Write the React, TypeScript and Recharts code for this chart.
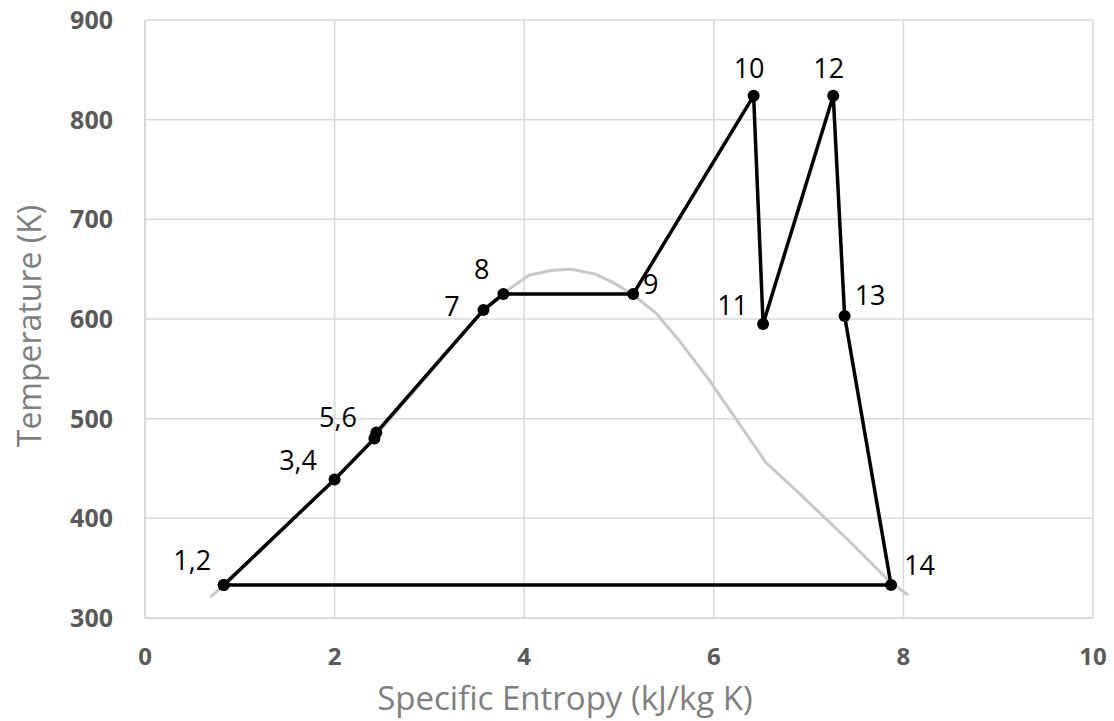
import React from 'react';
import {
  ScatterChart,
  Scatter,
  XAxis,
  YAxis,
  CartesianGrid,
  LabelList,
} from 'recharts';

// state points of the cycle (in order), closing back to 1,2
const cycleLabels = ['1,2', '3,4', '5,6', '', '7', '8', '9', '10', '11', '12', '13', '14', ''];
const cycleS = [0.83, 2.0, 2.42, 2.44, 3.57, 3.78, 5.15, 6.42, 6.52, 7.26, 7.38, 7.87, 0.83];
const cycleT = [333, 439, 480, 486, 609, 625, 625, 824, 595, 824, 603, 333, 333];

// saturation dome
const domeS = [0.69, 0.83, 2.0, 2.42, 3.57, 3.78, 4.05, 4.3, 4.5, 4.75, 4.95, 5.15, 5.39, 5.63, 5.95, 6.26, 6.55, 6.89, 7.42, 7.84, 8.05];
const domeT = [321, 333, 439, 481, 609, 626, 644, 649, 650, 645, 636, 624, 606, 579, 539, 496, 456, 426, 378, 338, 323];

const xTicks = [0, 2, 4, 6, 8, 10];
const yTicks = [300, 400, 500, 600, 700, 800, 900];

const cycleData = cycleS.map((s, i) => ({ s, t: cycleT[i], name: cycleLabels[i] }));
const domeData = domeS.map((s, i) => ({ s, t: domeT[i] }));

const FONT = "'Open Sans', sans-serif";

// label offsets (text centre relative to the point)
const labelOffset: Record<string, [number, number]> = {
  '1,2': [-27, -21],
  '3,4': [-32, -15],
  '5,6': [-32, -18],
  '7': [-27, 0],
  '8': [-17, -21],
  '9': [22, -6],
  '10': [0, -24],
  '11': [-26, -15],
  '12': [0, -24],
  '13': [30, -17],
  '14': [33, -16],
};

const PointLabel = (props: any) => {
  const { x, y, value } = props;
  if (!value) return null;
  const [dx, dy] = labelOffset[value] || [0, -20];
  return (
    <text
      x={x + dx}
      y={y + dy}
      textAnchor="middle"
      dominantBaseline="central"
      fontFamily={FONT}
      fontSize={27}
      fill="#000"
    >
      {value}
    </text>
  );
};

const Dot = (props: any) => {
  const { cx, cy } = props;
  return <circle cx={cx} cy={cy} r={6} fill="#000" />;
};

const XTitle = (props: any) => {
  const { viewBox } = props;
  return (
    <text
      x={viewBox.x + 420}
      y={viewBox.y + 79}
      textAnchor="middle"
      dominantBaseline="central"
      fontFamily={FONT}
      fontSize={33}
      fill="#7f7f7f"
    >
      Specific Entropy (kJ/kg K)
    </text>
  );
};

const YTitle = (props: any) => {
  const { viewBox } = props;
  const cx = 28;
  const cy = viewBox.y + viewBox.height / 2 + 7;
  return (
    <text
      x={cx}
      y={cy}
      transform={`rotate(-90 ${cx} ${cy})`}
      textAnchor="middle"
      dominantBaseline="central"
      fontFamily={FONT}
      fontSize={32}
      fill="#7f7f7f"
    >
      Temperature (K)
    </text>
  );
};

export default function App() {
  return (
    <div style={{ position: 'absolute', left: 0, top: 0, background: '#fff' }}>
      <ScatterChart
        width={1114}
        height={721}
        margin={{ top: 20, right: 21, left: 0, bottom: 0 }}
      >
        <CartesianGrid stroke="#d9d9d9" strokeWidth={1.5} />
        <XAxis
          type="number"
          dataKey="s"
          domain={[0, 10]}
          ticks={xTicks}
          height={103}
          tickLine={false}
          tickSize={0}
          tickMargin={30}
          axisLine={{ stroke: '#d9d9d9', strokeWidth: 2 }}
          tick={{ fontSize: 24, fontWeight: 700, fill: '#595959', fontFamily: FONT }}
          label={<XTitle />}
        />
        <YAxis
          type="number"
          dataKey="t"
          domain={[300, 900]}
          ticks={yTicks}
          width={145}
          tickLine={false}
          tickSize={0}
          tickMargin={32}
          axisLine={{ stroke: '#d9d9d9', strokeWidth: 2 }}
          tick={{ fontSize: 25, fontWeight: 700, fill: '#595959', fontFamily: FONT }}
          label={<YTitle />}
        />
        <Scatter
          data={domeData}
          line={{ stroke: '#c8c8c8', strokeWidth: 3 }}
          lineType="joint"
          shape={() => <g />}
          isAnimationActive={false}
        />
        <Scatter
          data={cycleData}
          line={{ stroke: '#000', strokeWidth: 3.5 }}
          lineType="joint"
          shape={<Dot />}
          isAnimationActive={false}
        >
          <LabelList dataKey="name" content={<PointLabel />} />
        </Scatter>
      </ScatterChart>
    </div>
  );
}
